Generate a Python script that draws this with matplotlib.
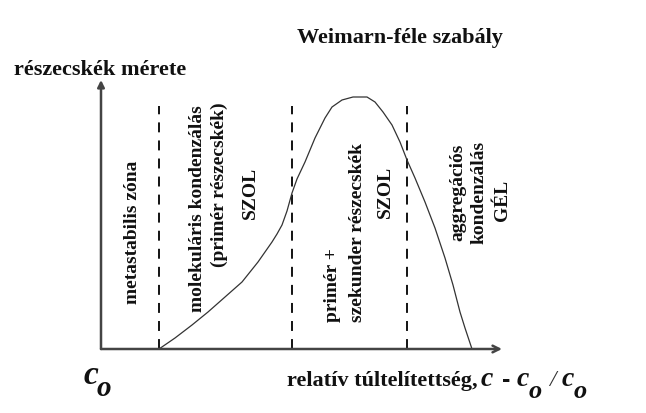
import matplotlib
matplotlib.use('Agg')
import matplotlib.pyplot as plt

# curve (x: relative supersaturation, y: particle size), axis units ~ pixels from origin
curve_x = [58, 74, 91, 107, 124, 141, 157, 171, 176, 181, 186, 191, 196, 204, 214, 224, 231, 241, 252,
           266, 274, 282, 291, 299, 306, 314, 324, 334, 344, 352, 359, 364, 371]
curve_y = [0, 11, 24, 37, 52, 67, 87, 107, 115, 124, 138, 156, 170, 187, 211, 231, 242, 249, 252,
           252, 247, 237, 224, 207, 189, 171, 147, 121, 91, 64, 37, 21, 0]

# zone borders
borders = [58, 191, 306]
border_top = 243

x_max = 401
y_max = 269

SERIF = 'Liberation Serif'

fig = plt.figure(figsize=(6.46, 4.13), dpi=100)
ax = fig.add_axes([101 / 646, (413 - 349) / 413, x_max / 646, y_max / 413])
ax.set_xlim(0, x_max)
ax.set_ylim(0, y_max)
ax.axis('off')

# axes with arrows
ax.annotate('', xy=(x_max, 0), xytext=(0, 0),
            arrowprops=dict(arrowstyle='->', lw=1.8, color='#444444', shrinkA=0, shrinkB=0,
                            mutation_scale=12))
ax.annotate('', xy=(0, y_max), xytext=(0, 0),
            arrowprops=dict(arrowstyle='-|>', lw=1.8, color='#444444', shrinkA=0, shrinkB=0,
                            mutation_scale=10))

for b in borders:
    ax.plot([b, b], [0, border_top], color='black', lw=1.3,
            linestyle=(0, (5.5, 4.5)), solid_capstyle='butt')

ax.plot(curve_x, curve_y, color='#333333', lw=0.9)

txt = dict(family=SERIF, fontweight='bold', fontsize=16, color='#111111')
vtxt = dict(family=SERIF, fontweight='bold', fontsize=14, color='#111111',
            rotation=90, rotation_mode='anchor', va='baseline')


def vlabel(base_px, y_px, s, ha='center'):
    # base_px: x pixel of the text baseline, y_px: pixel of centre (or start for ha='left')
    ax.text(base_px - 101, 349 - y_px, s, ha=ha, **vtxt)


# zone labels (vertical)
vlabel(137, 232, 'metastabilis zóna')
vlabel(202, 312, 'molekuláris kondenzálás', ha='left')
vlabel(224, 185, '(primér részecskék)')
vlabel(255, 193, 'SZOL')

vlabel(337, 322, 'primér +', ha='left')
vlabel(362, 322, 'szekunder részecskék', ha='left')
vlabel(390, 192, 'SZOL')

vlabel(462, 192, 'aggregációs')
vlabel(484, 192, 'kondenzálás')
vlabel(507, 200, 'GÉL')


# titles (figure pixel coords)
def px(x, y):
    return x / 646, 1 - y / 413


fig.text(*px(400, 38), 'Weimarn-féle szabály', ha='center', va='center', **txt)
fig.text(*px(14, 70), 'részecskék mérete', ha='left', va='center', **txt)
fig.text(*px(287, 381), 'relatív túltelítettség,', ha='left', va='center', **txt)

ital = dict(family=SERIF, style='italic', fontweight='bold', color='#111111')
# c_o at the origin
fig.text(*px(84, 376), 'c', ha='left', va='center', fontsize=24, **ital)
fig.text(*px(97, 388), 'o', ha='left', va='center', fontsize=21, **ital)

# c - c_o / c_o
fig.text(*px(481, 380), 'c', ha='left', va='center', fontsize=20, **ital)
fig.text(*px(502, 380), '-', ha='left', va='center', fontsize=18, family='Liberation Sans',
         fontweight='bold', color='#111111')
fig.text(*px(517, 380), 'c', ha='left', va='center', fontsize=20, **ital)
fig.text(*px(529, 392), 'o', ha='left', va='center', fontsize=19, **ital)
fig.text(*px(549, 380), '/', ha='left', va='center', fontsize=17, family=SERIF,
         style='italic', color='#333333')
fig.text(*px(562, 380), 'c', ha='left', va='center', fontsize=20, **ital)
fig.text(*px(574, 392), 'o', ha='left', va='center', fontsize=19, **ital)

fig.savefig('out.png', dpi=100)
